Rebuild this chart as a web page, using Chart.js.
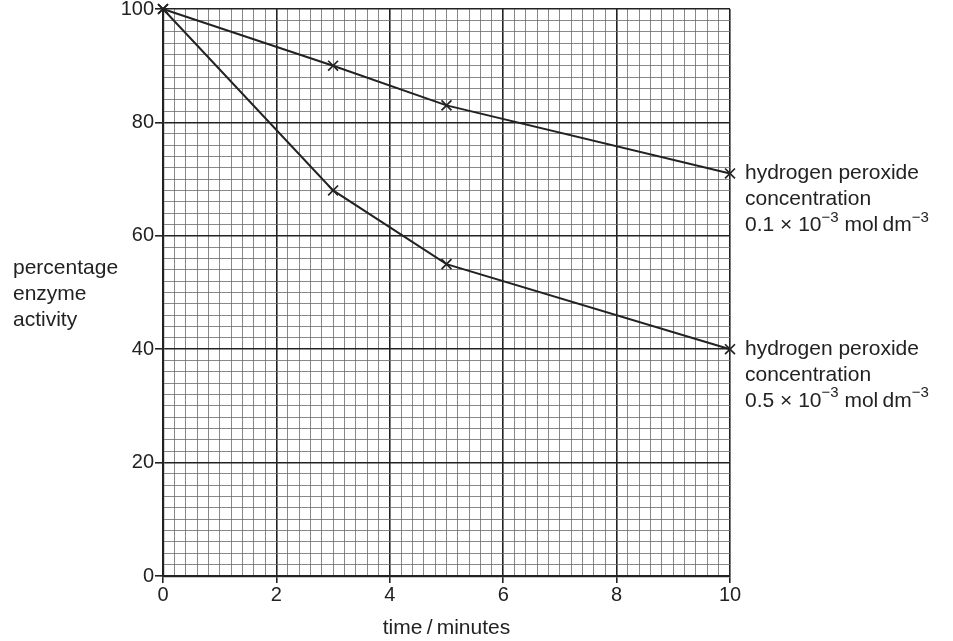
<!DOCTYPE html>
<html>
<head>
<meta charset="utf-8">
<script src="https://cdn.jsdelivr.net/npm/chart.js@4/dist/chart.umd.min.js"></script>
<style>
    html, body { margin: 0; padding: 0; background: #ffffff; }
    #wrap { width: 953px; height: 641px; position: relative; }
</style>
</head>
<body>
<div id="wrap"><canvas id="enzymeChart"></canvas></div>
<script>
// Data
const timeMinutes = [0, 3, 5, 10];
const lowConcActivity = [100, 90, 83, 71];   // 0.1 x 10^-3 mol dm^-3
const highConcActivity = [100, 68, 55, 40];  // 0.5 x 10^-3 mol dm^-3
const xTickLabels = [0, 2, 4, 6, 8, 10];
const yTickLabels = [0, 20, 40, 60, 80, 100];

const yTitleLines = ['percentage', 'enzyme', 'activity'];
const lowConcLabel = ['hydrogen peroxide', 'concentration', '0.1 \u00d7 10', '\u22123', ' mol\u2009dm', '\u22123'];
const highConcLabel = ['hydrogen peroxide', 'concentration', '0.5 \u00d7 10', '\u22123', ' mol\u2009dm', '\u22123'];

const ink = '#222222';
const minorInk = '#6a6a6a';
const font = 'Liberation Sans, Arial, sans-serif';

function isMajor(value, step) {
    return Math.abs(value / step - Math.round(value / step)) < 1e-6;
}

function toPoints(xs, ys) {
    return xs.map((x, i) => ({ x: x, y: ys[i] }));
}

// Draws the horizontal y title and the two line labels with superscripts
const textPlugin = {
    id: 'textLabels',
    afterDraw(chart) {
        const ctx = chart.ctx;
        const xs = chart.scales.x;
        const ys = chart.scales.y;
        ctx.save();
        ctx.fillStyle = ink;
        ctx.textBaseline = 'middle';
        ctx.textAlign = 'left';
        ctx.font = '21px ' + font;

        yTitleLines.forEach((line, i) => {
            ctx.fillText(line, 13, 268 + i * 26);
        });

        function drawLabel(lines, yValue) {
            const x0 = xs.getPixelForValue(10) + 15;
            const y0 = ys.getPixelForValue(yValue);
            ctx.font = '21px ' + font;
            ctx.fillText(lines[0], x0, y0);
            ctx.fillText(lines[1], x0, y0 + 26);
            // third line with superscripts
            let x = x0;
            const y3 = y0 + 52;
            for (let i = 2; i < lines.length; i++) {
                const sup = (i % 2 === 1);
                ctx.font = (sup ? '15px ' : '21px ') + font;
                ctx.fillText(lines[i], x, sup ? y3 - 8 : y3);
                x += ctx.measureText(lines[i]).width;
            }
        }
        drawLabel(lowConcLabel, lowConcActivity[lowConcActivity.length - 1]);
        drawLabel(highConcLabel, highConcActivity[highConcActivity.length - 1]);
        ctx.restore();
    }
};

const lineStyle = {
    borderColor: ink,
    borderWidth: 2,
    pointStyle: 'crossRot',
    pointRadius: 7,
    pointBorderWidth: 1.7,
    pointBorderColor: ink,
    pointBackgroundColor: ink,
    fill: false,
    tension: 0,
    clip: false
};

new Chart(document.getElementById('enzymeChart'), {
    type: 'scatter',
    data: {
        datasets: [
            Object.assign({ label: '0.1', data: toPoints(timeMinutes, lowConcActivity), showLine: true }, lineStyle),
            Object.assign({ label: '0.5', data: toPoints(timeMinutes, highConcActivity), showLine: true }, lineStyle)
        ]
    },
    options: {
        responsive: true,
        maintainAspectRatio: false,
        animation: false,
        layout: { padding: { left: 0, right: 223, top: 9, bottom: 0 } },
        plugins: { legend: { display: false }, tooltip: { enabled: false } },
        scales: {
            x: {
                type: 'linear',
                min: 0,
                max: 10,
                afterFit(scale) { scale.height = 65; },
                border: { color: ink, width: 2.2 },
                grid: {
                    color: c => isMajor(c.tick.value, 2) ? ink : minorInk,
                    lineWidth: c => isMajor(c.tick.value, 2) ? 1.6 : 0.8,
                    tickColor: c => isMajor(c.tick.value, 2) ? ink : 'rgba(0,0,0,0)',
                    tickLength: 7,
                    tickWidth: 1.6
                },
                ticks: {
                    stepSize: 0.2,
                    autoSkip: false,
                    maxRotation: 0,
                    padding: 0,
                    color: ink,
                    font: { family: font, size: 20 },
                    callback: v => (isMajor(v, 2) && xTickLabels.includes(Math.round(v))) ? String(Math.round(v)) : ''
                },
                title: {
                    display: true,
                    text: 'time\u2009/\u2009minutes',
                    color: ink,
                    font: { family: font, size: 21 },
                    padding: { top: 6, bottom: 0 }
                }
            },
            y: {
                type: 'linear',
                min: 0,
                max: 100,
                afterFit(scale) {
                    scale.width = 163;
                    scale.paddingTop = 0;
                    scale.paddingBottom = 0;
                },
                border: { color: ink, width: 2.2 },
                grid: {
                    color: c => isMajor(c.tick.value, 20) ? ink : minorInk,
                    lineWidth: c => isMajor(c.tick.value, 20) ? 1.6 : 0.8,
                    tickColor: c => isMajor(c.tick.value, 20) ? ink : 'rgba(0,0,0,0)',
                    tickLength: 8,
                    tickWidth: 1.6
                },
                ticks: {
                    stepSize: 2,
                    autoSkip: false,
                    padding: 1,
                    color: ink,
                    font: { family: font, size: 20 },
                    callback: v => (isMajor(v, 20) && yTickLabels.includes(Math.round(v))) ? String(Math.round(v)) : ''
                }
            }
        }
    },
    plugins: [textPlugin]
});
</script>
</body>
</html>
